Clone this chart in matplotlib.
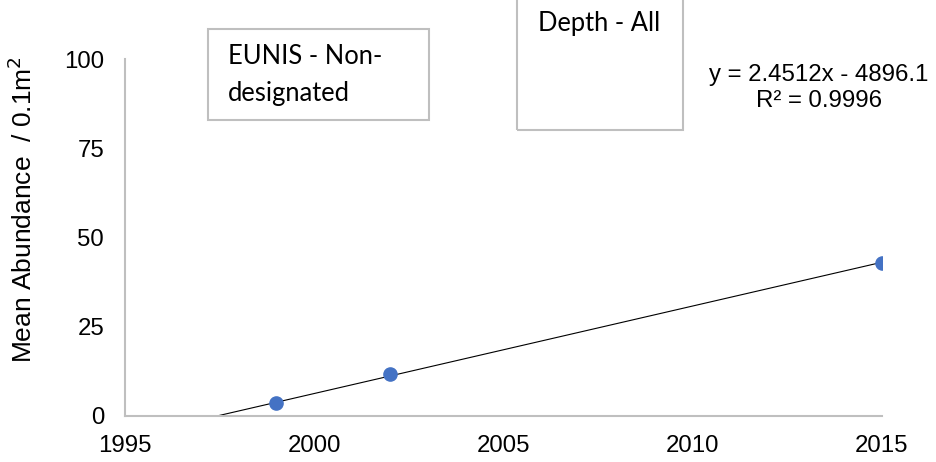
import numpy as np
import matplotlib
matplotlib.use("Agg")
import matplotlib.pyplot as plt
from matplotlib.patches import Rectangle

plt.rcParams['font.family'] = ['Liberation Sans', 'DejaVu Sans']

# data
years = [1999, 2002, 2015]
abundance = [3.6, 11.7, 42.9]
slope = 2.4512
intercept = -4896.1
r2 = 0.9996
xticks = [1995, 2000, 2005, 2010, 2015]
yticks = [0, 25, 50, 75, 100]

W, H = 936, 462
fig = plt.figure(figsize=(W / 100, H / 100), dpi=100)
ax = fig.add_axes([125 / W, 1 - 416 / H, (882 - 125) / W, (416 - 59) / H])

# trendline from where it crosses zero up to the last year
x0 = -intercept / slope
xl = np.linspace(x0, max(years), 50)
ax.plot(xl, slope * xl + intercept, color='black', lw=0.8, zorder=2)
ax.plot(years, abundance, 'o', color='#4472C4', ms=9.5, zorder=3)

ax.set_xlim(1995, 2015)
ax.set_ylim(0, 100)
ax.set_xticks(xticks)
ax.set_yticks(yticks)
ax.tick_params(length=0, labelsize=17.3, colors='#000000')
ax.tick_params(axis='x', pad=14)
ax.tick_params(axis='y', pad=15)
for s in ['top', 'right']:
    ax.spines[s].set_visible(False)
for s in ['left', 'bottom']:
    ax.spines[s].set_color('#BFBFBF')
    ax.spines[s].set_linewidth(1.5)

fig.text(23 / W, 1 - 210 / H, 'Mean Abundance  / 0.1m$^2$', rotation=90,
         ha='center', va='center', fontsize=19)

# text boxes
box_font = ['Lato', 'DejaVu Sans']
fig.patches.append(Rectangle((208 / W, 1 - 120 / H), (429 - 208) / W, (120 - 29) / H,
                             transform=fig.transFigure, fill=False,
                             edgecolor='#BFBFBF', lw=1.5))
fig.text(228 / W, 1 - 57 / H, 'EUNIS - Non-', fontsize=18.4, family=box_font,
         va='center', ha='left')
fig.text(228 / W, 1 - 93 / H, 'designated', fontsize=18.4, family=box_font,
         va='center', ha='left')

fig.patches.append(Rectangle((517 / W, 1 - 130 / H), (683 - 517) / W, 140 / H,
                             transform=fig.transFigure, fill=False,
                             edgecolor='#BFBFBF', lw=1.5))
fig.text(599 / W, 1 - 23 / H, 'Depth - All', fontsize=18.4, family=box_font,
         va='center', ha='center')

fig.text(819 / W, 1 - 75 / H, f'y = {slope}x - {-intercept}', fontsize=17.3,
         ha='center', va='center')
fig.text(819 / W, 1 - 101 / H, f'R² = {r2}', fontsize=17.3,
         ha='center', va='center')

fig.savefig('out.png', dpi=100)
